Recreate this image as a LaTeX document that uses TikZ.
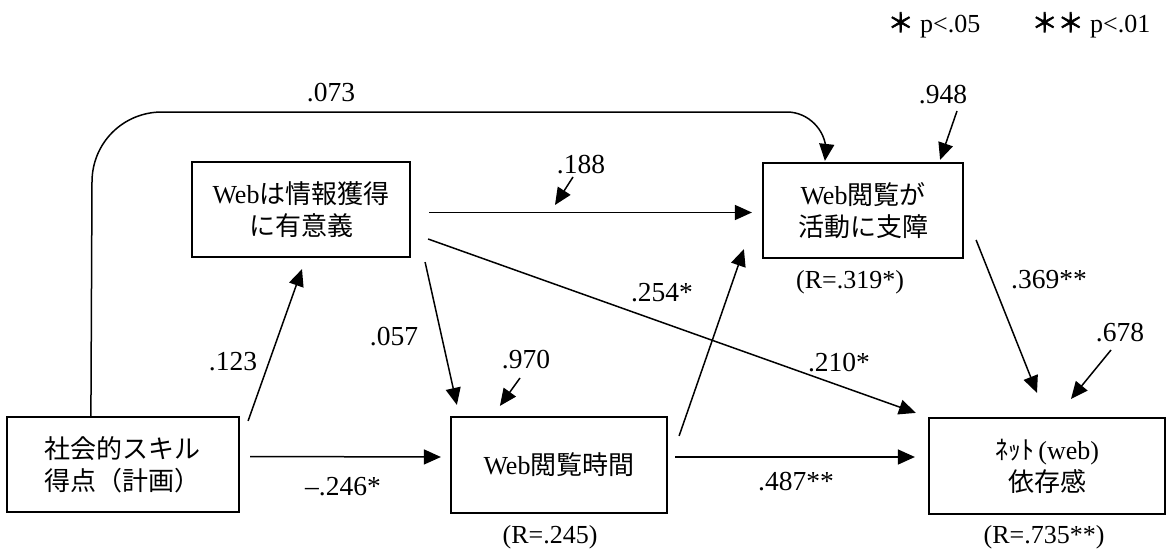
\documentclass[tikz,border=0pt]{standalone}
\usepackage{fontspec}
\setmainfont{Liberation Serif}
\newfontfamily\jp{Noto Sans CJK JP}
\newfontfamily\jpb[FakeBold=2.5]{Noto Sans CJK JP}
\usetikzlibrary{calc,arrows.meta}

\begin{document}
\begin{tikzpicture}[x=1pt,y=-1pt,
  every node/.style={font=\fontsize{26}{32}\selectfont, inner sep=0pt},
  box/.style={draw, line width=2.2pt, minimum height=95pt, align=center},
  coef/.style={font=\fontsize{27.5}{32}\selectfont},
  arr/.style={line width=1.5pt, -{Triangle[length=17pt,width=15pt]}}]
\useasboundingbox (0,0) rectangle (1168,551);
% boxes
\node[box, minimum width=232pt, align=left] (S) at (123,464.5) {{\jp 社会的スキル}\\{\jp 得点（計画）}};
\node[box, minimum width=218pt] (A) at (301,209.5) {Web{\jp は情報獲得}\\{\jp に有意義}};
\node[box, minimum width=200pt] (B) at (863,210.5) {Web{\jp 閲覧が}\\{\jp 活動に支障}};
\node[box, minimum width=216pt, minimum height=96pt] (T) at (559,465) {Web{\jp 閲覧時間}};
\node[box, minimum width=236pt, minimum height=96pt] (N) at (1047,466) {{\jp ﾈｯﾄ}\,(web)\\{\jp 依存感}};
% paths
\draw[arr] ($(S.north east)+(8,5)$) -- ($(A.south)+(1,11)$);
\draw[arr] ($(S.east)+(10,-8)$) -- ($(T.west)+(-9,-8)$);
\draw[arr] ($(A.south east)+(14,4)$) -- ($(T.north west)+(7,-11)$);
\draw[arr] ($(A.east)+(18,3)$) -- ($(B.west)+(-10,2)$);
\draw[arr] ($(A.east)+(17,29.5)$) -- ($(N.north west)+(-12,-4)$);
\draw[arr] ($(T.north east)+(11,20)$) -- ($(B.south west)+(-18,-10)$);
\draw[arr] ($(T.east)+(7,-8)$) -- ($(N.west)+(-13,-9)$);
\draw[arr] ($(B.east)+(12,29.5)$) -- ($(N.north)+(-10,-24)$);
\coordinate (s1) at ($(S.north west)+(85,0)$);
\coordinate (b1) at ($(B.north west)+(63,-1)$);
\draw[arr] (s1) -- (92,182) .. controls (92,143) and (123,112) .. (162,112) -- (787,112)
  .. controls (808,112) and (826,130) .. (826,151) -- (b1);
% residuals
\coordinate (e1) at (957,111);
\coordinate (e2) at (573,177);
\coordinate (e3) at (520,378);
\coordinate (e4) at (1111,350);
\draw[arr] (e1) -- ($(B.north east)+(-24,-2)$);
\draw[arr] (e2) -- (555,205);
\draw[arr] (e3) -- ($(T.north west)+(50,-10)$);
\draw[arr] (e4) -- ($(N.north)+(24,-18)$);
% coefficients
\node[coef] (l073) at (331,93) {.073};
\node[coef] (l188) at (581,165) {.188};
\node[coef] (l948) at (943,95) {.948};
\node[coef] (l123) at (233,362) {.123};
\node[coef] (l057) at (394,337) {.057};
\node[coef] (l970) at (526,360) {.970};
\node[coef] (l254) at (662,293) {.254*};
\node[coef] (l369) at (1049,280) {.369**};
\node[coef] (l678) at (1120,333) {.678};
\node[coef] (l210) at (839,363) {.210*};
\node[coef] (l246) at (343,487) {--.246*};
\node[coef] (l487) at (796,482) {.487**};
\node (rB) at (850,282) {(R=.319*)};
\node (rT) at (550,537) {(R=.245)};
\node (rN) at (1044,537) {(R=.735**)};
\node (p05) at (934,25) {{\jpb ＊} p<.05};
\node (p01) at (1091,25) {{\jpb ＊＊} p<.01};
\end{tikzpicture}
\end{document}
